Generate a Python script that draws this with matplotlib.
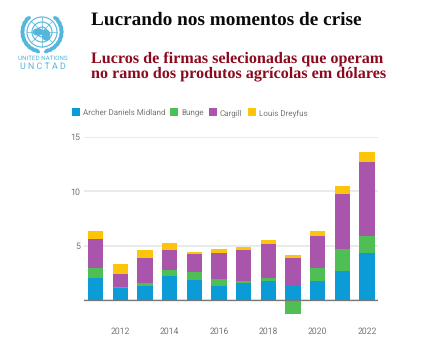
import numpy as np
import matplotlib
matplotlib.use("Agg")
import matplotlib.pyplot as plt
from matplotlib.patches import Circle, Ellipse, Rectangle

plt.rcParams["text.hinting"] = "none"

W, H = 430, 361
years = [2011, 2012, 2013, 2014, 2015, 2016, 2017, 2018, 2019, 2020, 2021, 2022]
adm = [2.02, 1.16, 1.32, 2.23, 1.87, 1.29, 1.59, 1.81, 1.35, 1.81, 2.72, 4.35]
bunge = [0.92, 0.05, 0.30, 0.55, 0.73, 0.70, 0.15, 0.25, -1.29, 1.13, 2.02, 1.59]
cargill = [2.69, 1.18, 2.30, 1.80, 1.62, 2.39, 2.85, 3.09, 2.57, 3.00, 4.99, 6.73]
dreyfus = [0.70, 0.95, 0.67, 0.64, 0.21, 0.33, 0.34, 0.40, 0.25, 0.40, 0.73, 0.95]
series_names = ["Archer Daniels Midland", "Bunge", "Cargill", "Louis Dreyfus"]
series_colors = ["#0b9bd6", "#4fbf55", "#a855ab", "#fdc40c"]
title = "Lucrando nos momentos de crise"
subtitle = "Lucros de firmas selecionadas que operam\nno ramo dos produtos agrícolas em dólares"

fig = plt.figure(figsize=(W / 100, H / 100), dpi=100, facecolor="white")

def box(x0, y0, x1, y1):
    return [x0 / W, 1 - y1 / H, (x1 - x0) / W, (y1 - y0) / H]

# Chart
ax = fig.add_axes(box(84, 137, 378, 322))
ax.set_xlim(2010.52, 2022.45)
ax.set_ylim((300.3 - 322) / 10.89, 15)
ax.set_zorder(2)
ax.patch.set_alpha(0)
x = np.array(years)
pos = np.zeros(len(years))
for vals, name, col in zip([adm, bunge, cargill, dreyfus], series_names, series_colors):
    v = np.array(vals)
    bottoms = np.where(v >= 0, pos, 0)
    ax.bar(x, v, bottom=bottoms, width=0.62, color=col, label=name, zorder=3, linewidth=0)
    pos = pos + np.where(v >= 0, v, 0)
ax.set_yticks([0, 5, 10, 15])
ax.set_yticklabels(["", "5", "10", "15"], fontfamily="Roboto", fontsize=6.4, color="#777777")
ax.set_xticks(list(range(2012, 2023, 2)))
ax.set_xticklabels([str(y) for y in range(2012, 2023, 2)], fontfamily="Roboto", fontsize=6.2, color="#777777")
ax.tick_params(axis="both", length=0)
ax.tick_params(axis="x", pad=3.4)
ax.tick_params(axis="y", pad=3)
ax.grid(axis="y", color="#e4e4e4", linewidth=1.1, zorder=0)
for s in ax.spines.values():
    s.set_visible(False)
ax.axhline(0, color="#777777", linewidth=0.9, zorder=4)

# Legend
handles, labels = ax.get_legend_handles_labels()
leg = fig.legend(handles, labels, loc="center left", bbox_to_anchor=(72 / W, 1 - 112.5 / H), ncol=4, frameon=False,
                 prop={"family": "Roboto", "size": 5.72}, labelcolor="#777777", handlelength=1.0, handleheight=1.15,
                 handletextpad=0.38, columnspacing=0.63, borderpad=0, borderaxespad=0)

# Headings
fig.text(91 / W, 1 - 20 / H, title, family="Liberation Serif", weight="bold", fontsize=13.9, color="#0a0a0a", va="center")
fig.text(91 / W, 1 - 66.5 / H, subtitle, family="Liberation Serif", weight="bold", fontsize=11.6, color="#8c0a1e",
         va="center", linespacing=1.03)

# UNCTAD emblem
logo = fig.add_axes([0, 0, 1, 1])
logo.set_xlim(0, W)
logo.set_ylim(H, 0)
logo.axis("off")
blue = "#55b6dc"
cx, cy = 42, 32
for r in [5, 10, 15]:
    logo.add_patch(Circle((cx, cy), r, fill=False, ec=blue, lw=0.8))
for a in np.arange(0, np.pi, np.pi / 4):
    logo.plot([cx - 15 * np.cos(a), cx + 15 * np.cos(a)], [cy - 15 * np.sin(a), cy + 15 * np.sin(a)], color=blue, lw=0.5)
logo.add_patch(Ellipse((cx - 4, cy), 9, 6, color=blue))
logo.add_patch(Ellipse((cx + 4, cy + 3), 7, 10, color=blue))
for side in (-1, 1):
    for t in np.linspace(-0.75, 1.3, 10):
        logo.add_patch(Ellipse((cx + side * 19.5 * np.cos(t), cy + 19.5 * np.sin(t)), 2.6, 5.5,
                               angle=side * (np.degrees(t) - 15), color=blue))
logo.text(42.5, 58.5, "UNITED NATIONS", family="Roboto", fontsize=4.5, color=blue, ha="center", va="center")
logo.text(42.5, 66.5, "U N C T A D", family="Roboto", fontsize=6.4, color=blue, ha="center", va="center")

fig.savefig("out.png", dpi=100, facecolor="white")
